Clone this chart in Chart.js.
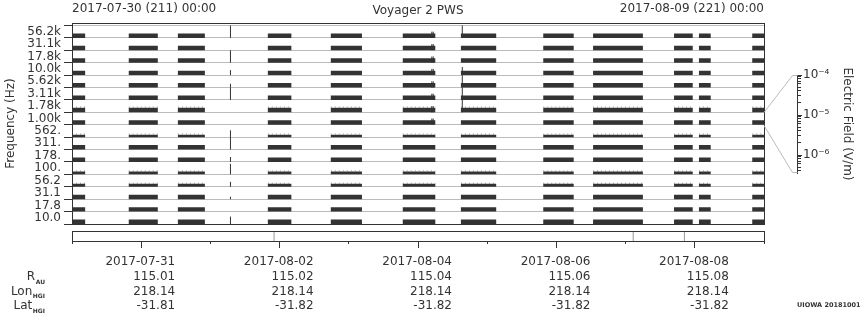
<!DOCTYPE html>
<html>
<head>
<meta charset="utf-8">
<script src="https://cdn.jsdelivr.net/npm/chart.js@4.4.1/dist/chart.umd.min.js"></script>
<style>
    html, body { margin: 0; padding: 0; background: #fff; }
    #wrap { position: relative; width: 860px; height: 320px; }
    #wrap canvas { position: absolute; left: 0; top: 0; }
</style>
</head>
<body>
<div id="wrap">
    <canvas id="main" width="860" height="320"></canvas>
    <canvas id="strip" width="860" height="320"></canvas>
    <canvas id="field" width="860" height="320"></canvas>
</div>
<script>
// frequency channels, top to bottom
const channels = ['56.2k', '31.1k', '17.8k', '10.0k', '5.62k', '3.11k', '1.78k', '1.00k',
    '562.', '311.', '178.', '100.', '56.2', '31.1', '17.8', '10.0'];

// days after 2017-07-30 00:00 with data coverage
const blocks = [
    [0.00, 0.19], [0.82, 1.24], [1.53, 1.92], [2.83, 3.17], [3.74, 4.19], [4.78, 5.25],
    [5.62, 6.13], [6.81, 7.25], [7.53, 8.25], [8.70, 8.97], [9.06, 9.23], [9.83, 10.00],
];

// relative background level per channel (1 = normal)
const noiseLevel = [1, 1, 1, 1, 1, 1, 1, 1, 0.55, 1, 1, 0.65, 0.65, 1, 1, 1];

// channels showing faint (grey) activity over the background
const hissChannels = [6, 8, 11, 12];

// impulsive events: [day, height per channel in channel units]
const spikeColumns = [
    [2.29, [1, 0, 1, 0.4, 0.3, 1, 0, 0, 0.55, 1, 0.4, 0.85, 0.4, 0.2, 0, 0.6]],
    [5.20, [0.5, 0.5, 0.5, 0.5, 0.5, 0.5, 0.5, 0.5, 0, 0, 0, 0, 0, 0, 0, 0]],
    [5.22, [0.5, 0.5, 0.5, 0.5, 0.5, 0.5, 0.5, 0.5, 0, 0, 0, 0, 0, 0, 0, 0]],
    [5.64, [1, 0, 0, 0.65, 1, 1, 1, 0, 0, 0, 0, 0, 0, 0, 0, 0]],
];

// ephemeris
const labelDays = [1, 3, 5, 7, 9];
const dateLabels = ['2017-07-31', '2017-08-02', '2017-08-04', '2017-08-06', '2017-08-08'];
const rAU = ['115.01', '115.02', '115.04', '115.06', '115.08'];
const lonHGI = ['218.14', '218.14', '218.14', '218.14', '218.14'];
const latHGI = ['-31.81', '-31.82', '-31.82', '-31.82', '-31.82'];
const markerDays = [2.92, 8.11, 8.85];

// electric field scale (decades labelled) and the channel it belongs to
const efDecades = [-6, -5, -4];
const efChannel = 7;

const INK = '#333';
const GRID = '#bbb';
const FAMILY = '"DejaVu Sans", sans-serif';
const FONT = { family: FAMILY, size: 12 };
const BAR_ROWS = 0.36;   // background band height, in channel units
const ROW_PX = 12.41;

const rowBase = (c) => channels.length - 1 - c;

const barSets = channels.map((name, c) => {
    const amp = noiseLevel[c] * BAR_ROWS;
    const points = [];
    blocks.forEach(([s, e]) => {
        points.push({ x: s, y: rowBase(c) + amp / 2 }, { x: e, y: rowBase(c) + amp / 2 }, { x: e, y: null });
    });

    return {
        label: name,
        data: points,
        borderColor: INK,
        borderWidth: amp * ROW_PX,
        borderCapStyle: 'butt',
        pointRadius: 0,
        spanGaps: false,
        order: 2,
    };
});

const hissSets = hissChannels.map((c) => {
    const y = rowBase(c) + noiseLevel[c] * BAR_ROWS + 0.06;
    const points = [];
    blocks.forEach(([s, e]) => {
        points.push({ x: s, y }, { x: e, y }, { x: e, y: null });
    });

    return {
        label: channels[c] + ' hiss',
        data: points,
        borderColor: '#bbb',
        borderWidth: 1.5,
        borderDash: [1, 3],
        borderCapStyle: 'butt',
        pointRadius: 0,
        spanGaps: false,
        order: 3,
    };
});

const spikePoints = [];
spikeColumns.forEach(([day, heights]) => {
    heights.forEach((h, c) => {
        if (! h) {
            return;
        }
        spikePoints.push({ x: day, y: rowBase(c) }, { x: day, y: rowBase(c) + h }, { x: day, y: null });
    });
});

const mainDecor = {
    id: 'mainDecor',
    afterDraw(chart) {
        const { ctx, chartArea: a } = chart;
        ctx.save();
        ctx.strokeStyle = INK;
        ctx.lineWidth = 1;
        ctx.strokeRect(Math.round(a.left) + 0.5, Math.round(a.top) + 0.5,
            Math.round(a.right - a.left), Math.round(a.bottom - a.top));

        ctx.fillStyle = INK;
        ctx.font = '12px ' + FAMILY;
        ctx.textBaseline = 'alphabetic';
        ctx.textAlign = 'left';
        ctx.fillText('2017-07-30 (211) 00:00', a.left, 12);
        ctx.textAlign = 'right';
        ctx.fillText('2017-08-09 (221) 00:00', a.right, 12);
        ctx.textAlign = 'center';
        ctx.fillText('Voyager 2 PWS', (a.left + a.right) / 2, 14);

        ctx.font = 'bold 6.5px ' + FAMILY;
        ctx.textAlign = 'left';
        ctx.textBaseline = 'middle';
        ctx.fillText('UIOWA 20181001', 797, 305);
        ctx.restore();
    },
};

const mainChart = new Chart(document.getElementById('main'), {
    type: 'line',
    data: {
        datasets: [
            ...hissSets,
            ...barSets,
            {
                label: 'events',
                data: spikePoints,
                borderColor: INK,
                borderWidth: 1,
                pointRadius: 0,
                spanGaps: false,
                order: 1,
            },
        ],
    },
    options: {
        responsive: false,
        animation: false,
        events: [],
        layout: { padding: { left: 0, top: 23, right: 96, bottom: 96 } },
        plugins: { legend: { display: false }, tooltip: { enabled: false } },
        scales: {
            x: { type: 'linear', min: 0, max: 10, display: false },
            y: {
                type: 'linear',
                min: 0,
                max: 16.2,
                afterBuildTicks(scale) {
                    const ticks = [];
                    for (let v = 0; v <= channels.length; v += 0.5) {
                        ticks.push({ value: v });
                    }
                    scale.ticks = ticks;
                },
                afterFit(scale) {
                    scale.width = 72;
                },
                ticks: {
                    autoSkip: false,
                    color: INK,
                    font: FONT,
                    padding: 3,
                    callback: (v) => (v % 1 ? channels[channels.length - 1 - Math.floor(v)] : ''),
                },
                grid: {
                    color: (ctx) => (ctx.tick && ctx.tick.value % 1 ? 'transparent' : GRID),
                    tickColor: (ctx) => (ctx.tick && ctx.tick.value % 1 ? 'transparent' : INK),
                    tickLength: 8,
                },
                border: { display: false },
                title: {
                    display: true,
                    text: 'Frequency (Hz)',
                    color: INK,
                    font: FONT,
                    padding: { top: 4, bottom: 0 },
                },
            },
        },
    },
    plugins: [mainDecor],
});

const stripDecor = {
    id: 'stripDecor',
    afterDraw(chart) {
        const { ctx, chartArea: a } = chart;
        ctx.save();
        ctx.strokeStyle = INK;
        ctx.lineWidth = 1;
        ctx.strokeRect(Math.round(a.left) + 0.5, Math.round(a.top) + 0.5,
            Math.round(a.right - a.left), Math.round(a.bottom - a.top));

        const names = [['R', 'AU'], ['Lon', 'HGI'], ['Lat', 'HGI']];
        const first = a.bottom + 7 + 7 + 14.64 * 1.5;
        ctx.fillStyle = INK;
        ctx.textBaseline = 'middle';
        names.forEach(([main, sub], i) => {
            const y = first + i * 14.64;
            ctx.font = 'bold 6px ' + FAMILY;
            const w = ctx.measureText(sub).width;
            ctx.textAlign = 'left';
            ctx.fillText(sub, 45 - w, y + 5);
            ctx.font = '12px ' + FAMILY;
            ctx.textAlign = 'right';
            ctx.fillText(main, 45 - w - 0.5, y);
        });
        ctx.restore();
    },
};

const markerPoints = [];
markerDays.forEach((d) => {
    markerPoints.push({ x: d, y: 0 }, { x: d, y: 1 }, { x: d, y: null });
});

new Chart(document.getElementById('strip'), {
    type: 'line',
    data: {
        datasets: [{
            data: markerPoints,
            borderColor: '#999',
            borderWidth: 1,
            pointRadius: 0,
            spanGaps: false,
        }],
    },
    options: {
        responsive: false,
        animation: false,
        events: [],
        layout: { padding: { left: 72, top: 231, right: 96, bottom: 0 } },
        plugins: { legend: { display: false }, tooltip: { enabled: false } },
        scales: {
            y: { min: 0, max: 1, display: false },
            x: {
                type: 'linear',
                min: 0,
                max: 10,
                afterBuildTicks(scale) {
                    const ticks = [];
                    for (let d = 0; d <= 10; d++) {
                        ticks.push({ value: d });
                    }
                    scale.ticks = ticks;
                },
                afterFit(scale) {
                    scale.height = 79;
                },
                ticks: {
                    autoSkip: false,
                    maxRotation: 0,
                    align: 'end',
                    labelOffset: 34,
                    padding: 7,
                    color: INK,
                    font: { family: FAMILY, size: 12, lineHeight: 1.22 },
                    callback(v) {
                        const i = labelDays.indexOf(v);
                        return i < 0 ? '' : [dateLabels[i], rAU[i], lonHGI[i], latHGI[i]];
                    },
                },
                grid: {
                    drawOnChartArea: false,
                    tickLength: 7,
                    tickColor: INK,
                    tickBorderDash: (ctx) => (ctx.tick && labelDays.includes(ctx.tick.value) ? [] : [3, 20]),
                },
                border: { display: false },
            },
        },
    },
    plugins: [stripDecor],
});

const SUP = { '-': '\u207b', 0: '\u2070', 1: '\u00b9', 2: '\u00b2', 3: '\u00b3', 4: '\u2074', 5: '\u2075', 6: '\u2076', 7: '\u2077', 8: '\u2078', 9: '\u2079' };
const sup = (n) => String(n).split('').map((ch) => SUP[ch]).join('');

const efTicks = [];
[-7, -6, -5].forEach((e) => {
    for (let m = 1; m < 10; m++) {
        efTicks.push(m * Math.pow(10, e));
    }
});
efTicks.push(1e-4);
const efMin = Math.pow(10, -6.45);

const fieldDecor = {
    id: 'fieldDecor',
    afterDraw(chart) {
        const { ctx } = chart;
        const s = chart.scales.y;
        const m = mainChart.scales.y;
        const row = rowBase(efChannel);
        const x0 = mainChart.chartArea.right;
        const yTop = Math.round(m.getPixelForValue(row + 1)) + 0.5;
        const yBot = Math.round(m.getPixelForValue(row)) + 0.5;
        const xa = Math.round(s.left) + 0.5;
        ctx.save();
        ctx.strokeStyle = GRID;
        ctx.lineWidth = 1;
        ctx.beginPath();
        ctx.moveTo(x0, yTop);
        ctx.lineTo(xa - 5, s.top + 0.5);
        ctx.lineTo(xa, s.top + 0.5);
        ctx.moveTo(x0, yBot);
        ctx.lineTo(xa - 5, s.bottom - 0.5);
        ctx.lineTo(xa, s.bottom - 0.5);
        ctx.stroke();
        ctx.restore();
    },
};

new Chart(document.getElementById('field'), {
    type: 'line',
    data: { datasets: [] },
    options: {
        responsive: false,
        animation: false,
        events: [],
        layout: { padding: { left: 790, top: 75, right: 0, bottom: 147 } },
        plugins: { legend: { display: false }, tooltip: { enabled: false } },
        scales: {
            x: { type: 'linear', min: 0, max: 1, display: false },
            y: {
                type: 'logarithmic',
                position: 'right',
                min: efMin,
                max: 1e-4,
                afterBuildTicks(scale) {
                    scale.ticks = efTicks.filter((v) => v >= efMin).map((v) => ({ value: v }));
                },
                afterFit(scale) {
                    scale.width = 63;
                },
                ticks: {
                    autoSkip: false,
                    padding: 1,
                    color: INK,
                    font: FONT,
                    callback(v) {
                        const e = Math.round(Math.log10(v));
                        return efDecades.includes(e) && Math.abs(Math.log10(v) - e) < 1e-6 ? '10' + sup(e) : '';
                    },
                },
                grid: {
                    drawOnChartArea: false,
                    tickLength: 5,
                    tickColor: INK,
                    tickBorderDash(ctx) {
                        if (! ctx.tick) {
                            return [];
                        }
                        const l = Math.log10(ctx.tick.value);
                        return Math.abs(l - Math.round(l)) < 1e-6 ? [] : [3, 10];
                    },
                },
                border: { display: true, color: INK },
                title: {
                    display: true,
                    text: 'Electric Field (V/m)',
                    color: INK,
                    font: FONT,
                    padding: { top: 6, bottom: 0 },
                },
            },
        },
    },
    plugins: [fieldDecor],
});
</script>
</body>
</html>
